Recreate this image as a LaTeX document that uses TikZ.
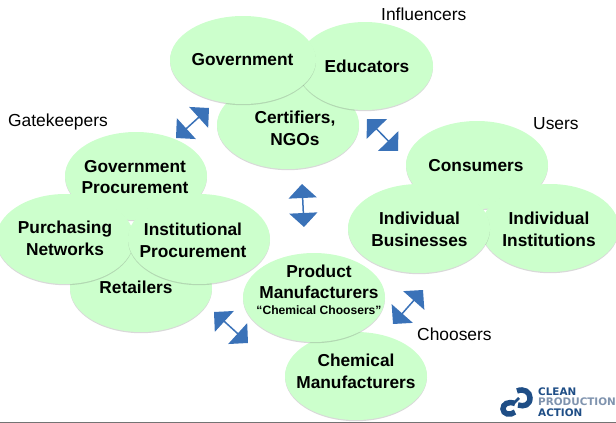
\documentclass[tikz,border=0pt]{standalone}
\usepackage{fontspec}
\setmainfont{Liberation Sans}
\newfontfamily\logofont{DejaVu Sans}
\usetikzlibrary{shapes.geometric,arrows.meta,shadows}
\definecolor{blobgreen}{HTML}{CCFFCC}
\definecolor{arrowblue}{HTML}{3A72B8}
\definecolor{logoblue}{HTML}{1F4E86}
\definecolor{logogray}{HTML}{7F93AE}
\tikzset{
  blob/.style={ellipse,fill=blobgreen,inner sep=0pt,
    minimum width=142pt,minimum height=88pt,
    drop shadow={shadow xshift=0pt,shadow yshift=-1.2pt,opacity=.25,fill=black!60}},
  blobtext/.style={inner sep=0pt,align=center,
    font=\fontsize{17.3}{21.5}\selectfont\bfseries},
  grouplabel/.style={font=\fontsize{17.4}{20}\selectfont,inner sep=0pt,anchor=west},
  biarrow/.style={draw=arrowblue,line width=1.5pt,
    {Triangle[length=14pt,width=28pt,fill=arrowblue]}-{Triangle[length=14pt,width=28pt,fill=arrowblue]}},
  logotext/.style={font=\logofont\fontsize{10.4}{12}\selectfont\bfseries,anchor=west,inner sep=0pt}
}
\begin{document}
\begin{tikzpicture}[x=1pt,y=-1pt]
\useasboundingbox (0,0) rectangle (616,423);
% top group
\node[blob] (cert) at (288,125) {};
\node[blob,minimum width=136pt] (edu) at (365,66) {};
\node[blob,minimum width=146pt] (gov) at (243,60) {};
% left group
\node[blob] (ret) at (141,288) {};
\node[blob] (gp) at (136,176) {};
\node[blob,minimum width=138pt,minimum height=90pt] (pn) at (65,239) {};
\node[blob,minimum height=90pt] (ip) at (199,239) {};
% right group
\node[blob] (con) at (477,165) {};
\node[blob,minimum width=138pt] (ii) at (550,228) {};
\node[blob,minimum height=89pt] (ib) at (419,228.5) {};
% bottom group
\node[blob] (chem) at (356,376) {};
\node[blob,minimum height=89pt] (pm) at (314,297.5) {};
% texts
\node[blobtext] (tcert) at (295,128.5) {Certifiers,\\NGOs};
\node[blobtext] (tedu) at (367,66) {Educators};
\node[blobtext] (tgov) at (242.5,60) {Government};
\node[blobtext] (tret) at (136,287) {Retailers};
\node[blobtext] (tgp) at (135,177) {Government\\Procurement};
\node[blobtext] (tpn) at (65,238.5) {Purchasing\\Networks};
\node[blobtext] (tip) at (193,240.5) {Institutional\\Procurement};
\node[blobtext] (tcon) at (476,166) {Consumers};
\node[blobtext] (tii) at (549,229.5) {Individual\\Institutions};
\node[blobtext] (tib) at (419.5,229.5) {Individual\\Businesses};
\node[blobtext] (tchem) at (356,371.5) {Chemical\\Manufacturers};
\node[blobtext] (tpm) at (319,282) {Product\\Manufacturers};
\node[inner sep=0pt,font=\fontsize{12.1}{14}\selectfont\bfseries] (tpmc) at (319,310) {“Chemical Choosers”};
% labels
\node[grouplabel] (linf) at (381,14) {Influencers};
\node[grouplabel] (lgate) at (8,122) {Gatekeepers};
\node[grouplabel] (luse) at (533,124) {Users};
\node[grouplabel] (lcho) at (417,334) {Choosers};
% arrows
\coordinate (a1a) at (176,138); \coordinate (a1b) at (209,108);
\coordinate (a2a) at (367,119); \coordinate (a2b) at (398,151);
\coordinate (a3a) at (302,184); \coordinate (a3b) at (304,227);
\coordinate (a4a) at (214,312); \coordinate (a4b) at (248,343);
\coordinate (a5a) at (393,324); \coordinate (a5b) at (423,290);
\draw[biarrow] (a1a) -- (a1b);
\draw[biarrow] (a2a) -- (a2b);
\draw[biarrow] (a3a) -- (a3b);
\draw[biarrow] (a4a) -- (a4b);
\draw[biarrow] (a5a) -- (a5b);
% logo
\draw[logoblue,line width=5.5pt] (515,403.5) .. controls (508,401) and (503,404) .. (503,409) .. controls (503,414) and (510,416) .. (515,412);
\draw[logoblue,line width=5.5pt] (517,391) .. controls (524,388) and (530,392) .. (530,398) .. controls (530,405) and (524,407) .. (518,405);
\draw[logoblue,line width=2.5pt] (513,404) -- (519,398);
\node[logotext,text=logoblue] (lg1) at (538,391.5) {CLEAN};
\node[logotext,text=logogray] (lg2) at (538,402) {PRODUCTION};
\node[logotext,text=logoblue] (lg3) at (538,413) {ACTION};
% bottom rule
\fill[black!55] (0,421.5) rectangle (616,423);
\end{tikzpicture}
\end{document}
